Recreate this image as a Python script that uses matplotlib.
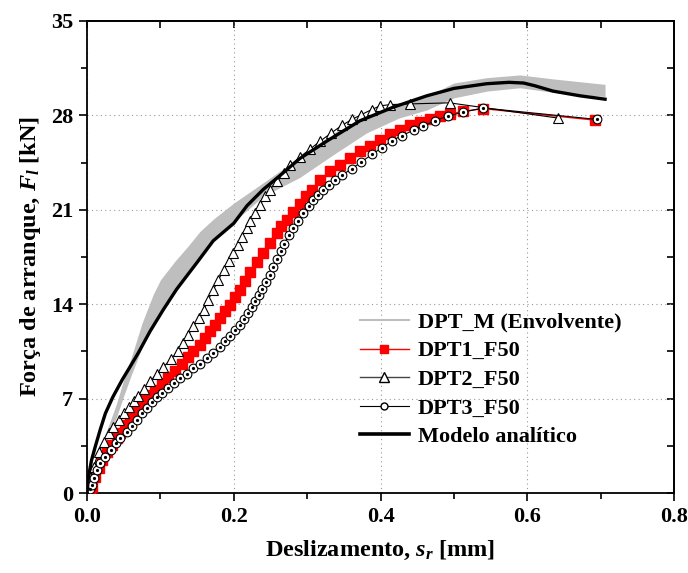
import numpy as np
import matplotlib
matplotlib.use("Agg")
import matplotlib.pyplot as plt
from matplotlib.lines import Line2D
from matplotlib.ticker import MultipleLocator

plt.rcParams["font.family"] = "Liberation Serif"
plt.rcParams["font.weight"] = "bold"
plt.rcParams["axes.labelweight"] = "bold"
plt.rcParams["mathtext.fontset"] = "custom"
plt.rcParams["mathtext.it"] = "Liberation Serif:italic:bold"
plt.rcParams["mathtext.rm"] = "Liberation Serif:bold"
plt.rcParams["axes.linewidth"] = 1.3

# Envolvente DPT_M (faixa cinzenta)
env_x = [0, 0.01, 0.02, 0.03, 0.04, 0.05, 0.06, 0.075, 0.09, 0.1, 0.12, 0.136, 0.154,
         0.172, 0.2, 0.24, 0.29, 0.336, 0.381, 0.425, 0.463, 0.5, 0.545, 0.59, 0.636, 0.706]
env_lo = [0, 1.4, 2.9, 4.3, 5.6, 7.2, 8.7, 10.8, 12.6, 13.5, 15.0, 16.3, 17.5,
          18.8, 20.1, 22.0, 23.4, 25.1, 26.7, 27.8, 28.4, 29.3, 29.8, 30.05, 29.7, 29.4]
env_hi = [0, 1.8, 3.7, 5.1, 6.6, 8.4, 10.0, 12.6, 14.7, 15.8, 17.2, 18.2, 19.4,
          20.3, 21.5, 23.0, 24.9, 26.7, 28.0, 28.9, 29.4, 30.4, 30.8, 31.0, 30.7, 30.3]

# DPT1_F50 (s, F)
dpt1 = np.array([
    (0, 0), (0.004, 0.2), (0.007, 0.47), (0.011, 1.2), (0.016, 1.83), (0.020, 2.45),
    (0.027, 3.07), (0.034, 3.56), (0.041, 4.1), (0.045, 4.45), (0.052, 5.05), (0.059, 5.54),
    (0.066, 6.04), (0.073, 6.41), (0.079, 6.9), (0.086, 7.28), (0.093, 7.65), (0.102, 8.14),
    (0.111, 8.59), (0.120, 9.05), (0.129, 9.55), (0.138, 10.05), (0.145, 10.5), (0.154, 11.0),
    (0.161, 11.5), (0.168, 12.0), (0.174, 12.47), (0.181, 12.97), (0.188, 13.46), (0.195, 13.96),
    (0.202, 14.5), (0.208, 15.05), (0.215, 15.75), (0.222, 16.4), (0.231, 17.1), (0.240, 17.8),
    (0.249, 18.54), (0.259, 19.28), (0.265, 19.77), (0.272, 20.27), (0.281, 20.8), (0.290, 21.4),
    (0.299, 22.0), (0.306, 22.5), (0.318, 23.2), (0.331, 23.85), (0.345, 24.35), (0.358, 24.85),
    (0.372, 25.35), (0.386, 25.75), (0.399, 26.2), (0.413, 26.6), (0.427, 26.9), (0.440, 27.3),
    (0.454, 27.5), (0.467, 27.75), (0.481, 27.95), (0.495, 28.1), (0.513, 28.3), (0.540, 28.5),
    (0.692, 27.65)])

# DPT2_F50
dpt2 = np.array([
    (0, 0), (0.0045, 1.2), (0.009, 1.95), (0.016, 3.07), (0.023, 3.8), (0.030, 4.43),
    (0.036, 4.92), (0.043, 5.42), (0.050, 5.92), (0.057, 6.35), (0.064, 6.8), (0.070, 7.2),
    (0.077, 7.7), (0.086, 8.27), (0.095, 8.85), (0.104, 9.35), (0.115, 9.95), (0.124, 10.55),
    (0.131, 11.11), (0.138, 11.73), (0.145, 12.35), (0.152, 12.97), (0.159, 13.6), (0.165, 14.3),
    (0.172, 15.05), (0.179, 15.8), (0.186, 16.5), (0.193, 17.17), (0.199, 17.8), (0.206, 18.4),
    (0.211, 19.0), (0.218, 19.65), (0.222, 20.2), (0.229, 20.76), (0.236, 21.38), (0.243, 22.0),
    (0.249, 22.5), (0.259, 23.1), (0.268, 23.7), (0.277, 24.3), (0.290, 24.9), (0.304, 25.5),
    (0.318, 26.1), (0.333, 26.7), (0.347, 27.25), (0.361, 27.7), (0.374, 28.06), (0.388, 28.43),
    (0.399, 28.7), (0.413, 28.8), (0.440, 28.85), (0.494, 28.93), (0.642, 27.8)])

# DPT3_F50
dpt3 = np.array([
    (0, 0), (0.004, 0.3), (0.007, 0.6), (0.009, 1.09), (0.014, 1.7), (0.018, 2.2),
    (0.025, 2.7), (0.032, 3.19), (0.039, 3.69), (0.045, 4.06), (0.054, 4.5), (0.061, 4.95),
    (0.068, 5.42), (0.075, 5.9), (0.082, 6.3), (0.089, 6.75), (0.095, 7.1), (0.102, 7.45),
    (0.110, 7.8), (0.118, 8.15), (0.127, 8.5), (0.136, 8.85), (0.145, 9.25), (0.154, 9.6),
    (0.163, 10.0), (0.172, 10.4), (0.181, 10.85), (0.188, 11.25), (0.195, 11.65), (0.202, 12.05),
    (0.208, 12.45), (0.214, 12.9), (0.220, 13.35), (0.225, 13.8), (0.229, 14.2), (0.234, 14.65),
    (0.239, 15.15), (0.244, 15.65), (0.249, 16.18), (0.254, 16.75), (0.259, 17.35), (0.264, 17.95),
    (0.269, 18.5), (0.275, 19.1), (0.281, 19.65), (0.288, 20.14), (0.295, 20.76), (0.302, 21.26),
    (0.308, 21.75), (0.315, 22.1), (0.322, 22.45), (0.330, 22.85), (0.338, 23.2), (0.347, 23.55),
    (0.361, 24.05), (0.374, 24.55), (0.388, 25.1), (0.402, 25.6), (0.415, 26.1), (0.429, 26.5),
    (0.445, 26.9), (0.458, 27.2), (0.474, 27.6), (0.492, 27.95), (0.513, 28.25), (0.540, 28.55),
    (0.695, 27.7)])

# Modelo analitico
mod_x = [0, 0.002, 0.006, 0.011, 0.018, 0.025, 0.035, 0.048, 0.058, 0.07, 0.086, 0.104, 0.122,
         0.15, 0.172, 0.2, 0.218, 0.24, 0.26, 0.29, 0.327, 0.372, 0.417, 0.463, 0.5, 0.545,
         0.575, 0.595, 0.61, 0.635, 0.672, 0.706]
mod_y = [0, 1.2, 2.4, 3.4, 4.7, 5.9, 7.1, 8.4, 9.3, 10.4, 12.0, 13.6, 15.1,
         17.1, 18.7, 20.0, 21.3, 22.5, 23.4, 24.8, 26.1, 27.6, 28.6, 29.45, 30.0, 30.35,
         30.45, 30.4, 30.2, 29.8, 29.45, 29.2]

fig = plt.figure(figsize=(6.88, 5.73), dpi=100)
ax = fig.add_axes([0.1265, 0.1396, 0.8532, 0.8238])

ax.fill_between(env_x, env_lo, env_hi, color="#bebebe", lw=0, zorder=2)
ax.plot(dpt1[:, 0], dpt1[:, 1], color="red", lw=1, marker="s", ms=6.8,
        mfc="red", mec="red", zorder=3)
ax.plot(dpt2[:, 0], dpt2[:, 1], color="black", lw=0.8, marker="^", ms=7,
        mfc="white", mec="black", mew=0.8, zorder=4)
ax.plot(dpt3[:, 0], dpt3[:, 1], color="black", lw=0.8, marker="o", ms=6.3,
        mfc="white", mec="black", mew=0.8, zorder=5)
ax.plot(dpt3[:, 0], dpt3[:, 1], ls="none", marker="o", ms=1.3, color="black", zorder=5)
ax.plot(mod_x, mod_y, color="black", lw=2.4, zorder=6)

ax.set_xlim(0, 0.8)
ax.set_ylim(0, 35)
ax.xaxis.set_major_locator(MultipleLocator(0.2))
ax.xaxis.set_minor_locator(MultipleLocator(0.1))
ax.yaxis.set_major_locator(MultipleLocator(7))
ax.yaxis.set_minor_locator(MultipleLocator(3.5))
ax.set_xticks([0, 0.2, 0.4, 0.6, 0.8], ["0.0", "0.2", "0.4", "0.6", "0.8"])
ax.tick_params(which="major", direction="out", length=6, width=1.2, labelsize=16, pad=4)
ax.tick_params(which="minor", direction="out", length=4, width=1.2)
ax.grid(True, which="major", ls=(0, (1, 3)), color="#999999", lw=0.8)
ax.set_axisbelow(True)

top = ax.secondary_xaxis("top")
top.xaxis.set_major_locator(MultipleLocator(0.2))
top.xaxis.set_minor_locator(MultipleLocator(0.1))
top.tick_params(which="both", direction="in", length=5, width=1.2, labeltop=False)
right = ax.secondary_yaxis("right")
right.yaxis.set_major_locator(MultipleLocator(7))
right.yaxis.set_minor_locator(MultipleLocator(3.5))
right.tick_params(which="both", direction="in", length=5, width=1.2, labelright=False)

ax.set_xlabel(r"Deslizamento, $s_r$ [mm]", fontsize=17.5, fontweight="bold", labelpad=9)
ax.set_ylabel(r"Força de arranque, $F_l$ [kN]", fontsize=17.5, fontweight="bold", labelpad=6)

handles = [
    Line2D([], [], color="#bebebe", lw=1.5),
    Line2D([], [], color="red", lw=1, marker="s", ms=6, mfc="red", mec="red"),
    Line2D([], [], color="#444444", lw=1, marker="^", ms=6.5, mfc="white", mec="black"),
    Line2D([], [], color="black", lw=0.8, marker="o", ms=5, mfc="white", mec="black"),
    Line2D([], [], color="black", lw=2.6),
]
labels = ["DPT_M (Envolvente)", "DPT1_F50", "DPT2_F50", "DPT3_F50", "Modelo analítico"]
ax.legend(handles, labels, loc="upper left", bbox_to_anchor=(0.465, 0.383), frameon=False,
          fontsize=16, handlelength=2.2, handletextpad=0.4, labelspacing=0.36,
          borderpad=0, borderaxespad=0)

fig.savefig("out.png", dpi=100)
